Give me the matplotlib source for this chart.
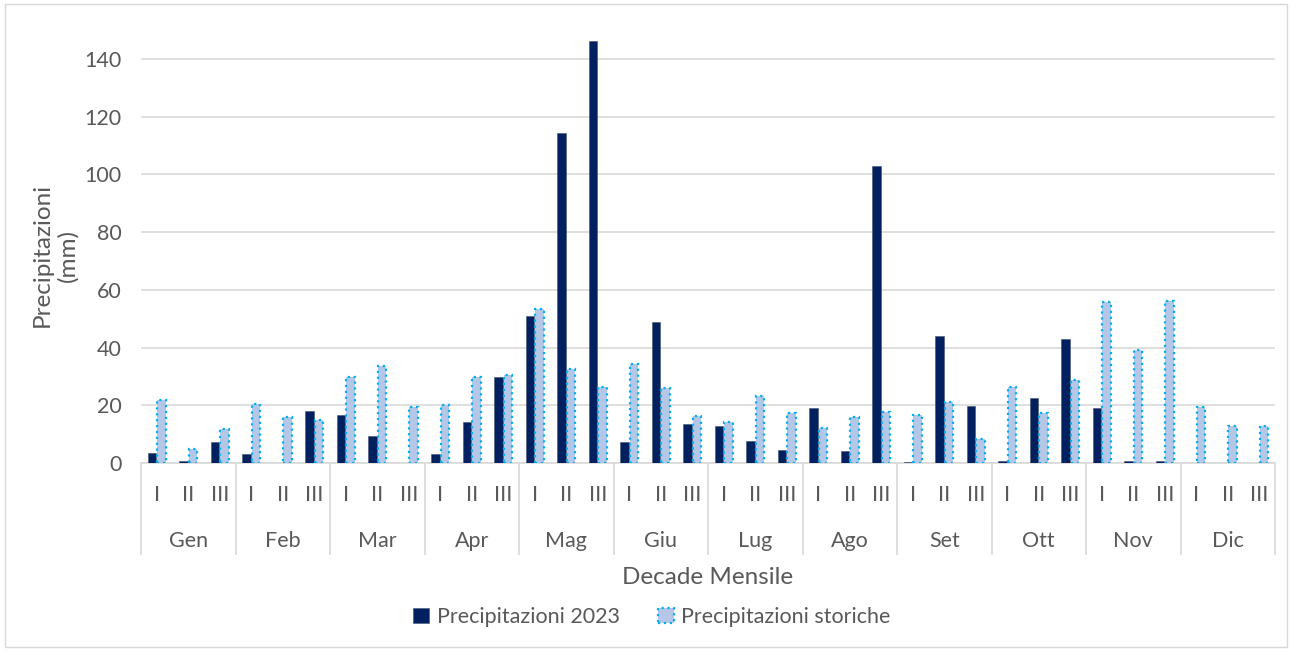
import matplotlib
matplotlib.use("Agg")
import matplotlib.pyplot as plt
from matplotlib.patches import Rectangle
import matplotlib.transforms as mtransforms
import numpy as np

plt.rcParams['font.family'] = ['Lato', 'DejaVu Sans']

# Dati: tre decadi per mese
mesi = ['Gen', 'Feb', 'Mar', 'Apr', 'Mag', 'Giu', 'Lug', 'Ago', 'Set', 'Ott', 'Nov', 'Dic']
decadi = ['I', 'II', 'III']

prec_2023 = [3.5, 0.8, 7.4,
             3.0, 0.0, 17.9,
             16.6, 9.5, 0.0,
             3.2, 14.3, 29.8,
             51.0, 114.3, 146.2,
             7.2, 49.0, 13.4,
             12.8, 7.6, 4.4,
             19.0, 4.2, 103.0,
             0.3, 43.9, 19.9,
             0.6, 22.5, 42.9,
             19.2, 0.8, 0.6,
             0.0, 0.0, 0.0]

prec_storiche = [21.7, 5.0, 11.7,
                 20.5, 16.1, 15.0,
                 29.8, 33.5, 19.4,
                 20.0, 29.8, 30.6,
                 53.5, 32.7, 26.4,
                 34.3, 26.0, 16.3,
                 14.1, 23.1, 17.2,
                 12.0, 16.1, 17.8,
                 16.8, 21.0, 8.2,
                 26.2, 17.4, 28.8,
                 55.7, 39.0, 56.0,
                 19.5, 12.9, 12.9]

W, H = 1290, 652
fig = plt.figure(figsize=(W / 100, H / 100), dpi=100)
fig.patch.set_facecolor('white')

# cornice esterna del grafico
fig.patches.append(Rectangle((5 / W, 5 / H), 1 - 8 / W, 1 - 9 / H,
                             transform=fig.transFigure, fill=False,
                             edgecolor='#D9D9D9', linewidth=1))

ax_l, ax_r, ax_t, ax_b = 141, 1275, 30, 463
ax = fig.add_axes([ax_l / W, 1 - ax_b / H, (ax_r - ax_l) / W, (ax_b - ax_t) / H])

n = len(prec_2023)
x = np.arange(n)
bw = 0.28
fs = 15.5

ax.bar(x - bw / 2 - 0.01, prec_2023, width=bw, color='#002060',
       edgecolor='#44546A', linewidth=0.4, label='Precipitazioni 2023', zorder=3)
ax.bar(x + bw / 2 + 0.01, prec_storiche, width=bw, color='#B4C7E7',
       edgecolor='#00B0F0', linewidth=1.6, linestyle=':',
       label='Precipitazioni storiche', zorder=3)

ax.set_xlim(-0.5, n - 0.5)
ax.set_ylim(0, 150)
ax.set_yticks(np.arange(0, 141, 20))
ax.yaxis.grid(True, color='#D9D9D9', linewidth=1.2, zorder=0)
ax.set_axisbelow(True)
for s in ['top', 'right', 'left']:
    ax.spines[s].set_visible(False)
ax.spines['bottom'].set_color('#D9D9D9')
ax.spines['bottom'].set_linewidth(1.2)
ax.tick_params(axis='y', length=0, pad=14, labelsize=fs, labelcolor='#595959')
ax.set_xticks([])

# asse delle categorie su due livelli
trans = mtransforms.blended_transform_factory(ax.transData, ax.transAxes)
hpx = ax_b - ax_t
for i in range(n):
    ax.text(i, -(495 - ax_b) / hpx, decadi[i % 3], transform=trans,
            ha='center', va='center', fontsize=fs, color='#595959')
for m, nome in enumerate(mesi):
    ax.text(3 * m + 1, -(541 - ax_b) / hpx, nome, transform=trans,
            ha='center', va='center', fontsize=fs, color='#595959')
sep = np.arange(0, n + 1, 3) - 0.5
ax.vlines(sep, 0, -(555 - ax_b) / hpx, transform=trans, colors='#D9D9D9',
          linewidth=1.2, clip_on=False)

fig.text(55 / W, 1 - 255 / H, 'Precipitazioni\n(mm)', rotation=90,
         ha='center', va='center', multialignment='center',
         fontsize=17.5, color='#595959', linespacing=1.25)
fig.text((ax_l + ax_r) / 2 / W, 1 - 578 / H, 'Decade Mensile',
         ha='center', va='center', fontsize=17.5, color='#595959')

fig.legend(loc='center', bbox_to_anchor=(652 / W, 1 - 617 / H), ncol=2,
           frameon=False, fontsize=fs, labelcolor='#595959',
           handlelength=0.75, handleheight=0.75, handletextpad=0.35,
           columnspacing=1.75)

fig.savefig('out.png', dpi=100)
